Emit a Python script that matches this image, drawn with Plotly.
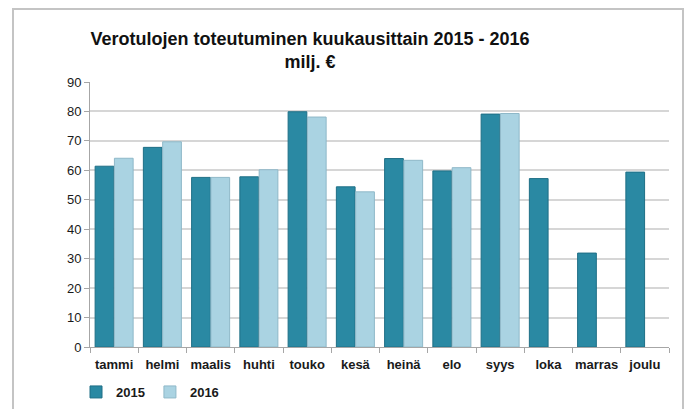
import plotly.graph_objects as go

months = ["tammi", "helmi", "maalis", "huhti", "touko", "kesä", "heinä", "elo", "syys", "loka", "marras", "joulu"]
v2015 = [61.4, 67.8, 57.6, 57.8, 79.9, 54.4, 64.0, 59.8, 79.1, 57.2, 31.9, 59.4]
v2016 = [64.1, 69.7, 57.6, 60.2, 78.1, 52.7, 63.4, 60.9, 79.3, None, None, None]
y_ticks = [0, 10, 20, 30, 40, 50, 60, 70, 80, 90]

FONT = "Liberation Sans, Arial, sans-serif"

W, H = 690, 409
L, R, T, B = 90, 21, 82, 62
pw, ph = W - L - R, H - T - B

def px_x(p):
    return (p - L) / pw

def px_y(p):
    return (H - B - p) / ph

fig = go.Figure()
fig.add_trace(go.Bar(
    x=months, y=v2015, name="<b>2015</b>",
    marker=dict(color="#2a89a3", line=dict(color="#1f6f86", width=1)),
))
fig.add_trace(go.Bar(
    x=months, y=v2016, name="<b>2016</b>",
    marker=dict(color="#aad3e2", line=dict(color="#8fb8c8", width=1)),
))

fig.update_layout(
    width=W, height=H,
    margin=dict(l=L, r=R, t=T, b=B, autoexpand=False),
    paper_bgcolor="white", plot_bgcolor="white",
    barmode="group", bargap=0.2, bargroupgap=0.03,
    font=dict(family=FONT, size=13, color="#1a1a1a"),
    title=dict(
        text="<b>Verotulojen toteutuminen kuukausittain 2015 - 2016</b><br><b>milj. €</b>",
        x=310 / W, xanchor="center", xref="container",
        y=1 - 50 / H, yanchor="middle", yref="container",
        font=dict(family=FONT, size=18, color="#111"),
    ),
    xaxis=dict(
        showline=True, linecolor="#a6a6a6", linewidth=1,
        ticks="outside", ticklen=5, tickcolor="#a6a6a6", tickson="boundaries",
        tickfont=dict(family=FONT, size=13, color="#1a1a1a"),
        tickangle=0, automargin=False, ticklabelstandoff=5,
        showgrid=False, tickprefix="<b>", ticksuffix="</b>",
    ),
    yaxis=dict(
        range=[0, 90], tickvals=y_ticks,
        showline=True, linecolor="#a6a6a6", linewidth=1,
        ticks="outside", ticklen=5, tickcolor="#a6a6a6",
        showgrid=True, gridcolor="#d6d6d6", gridwidth=2,
        tickfont=dict(family=FONT, size=13, color="#1a1a1a"),
        zeroline=False, automargin=False,
        tickprefix="<b>", ticksuffix="</b>",
    ),
    legend=dict(
        orientation="h", x=px_x(76), y=px_y(392), xanchor="left", yanchor="middle",
        font=dict(family=FONT, size=13, color="#1a1a1a"),
        itemwidth=30, tracegroupgap=0, traceorder="normal",
    ),
    shapes=[dict(
        type="rect", xref="paper", yref="paper",
        x0=px_x(13), x1=px_x(683), y0=px_y(420), y1=px_y(9),
        line=dict(color="#c4c4c4", width=2), fillcolor="rgba(0,0,0,0)", layer="below",
    )],
)
fig.update_layout(title_y=1 - 45 / H)

fig.write_html(
    "out.html",
    config={"displayModeBar": False},
    post_script="document.body.style.margin='0';document.body.style.overflow='hidden';",
)
